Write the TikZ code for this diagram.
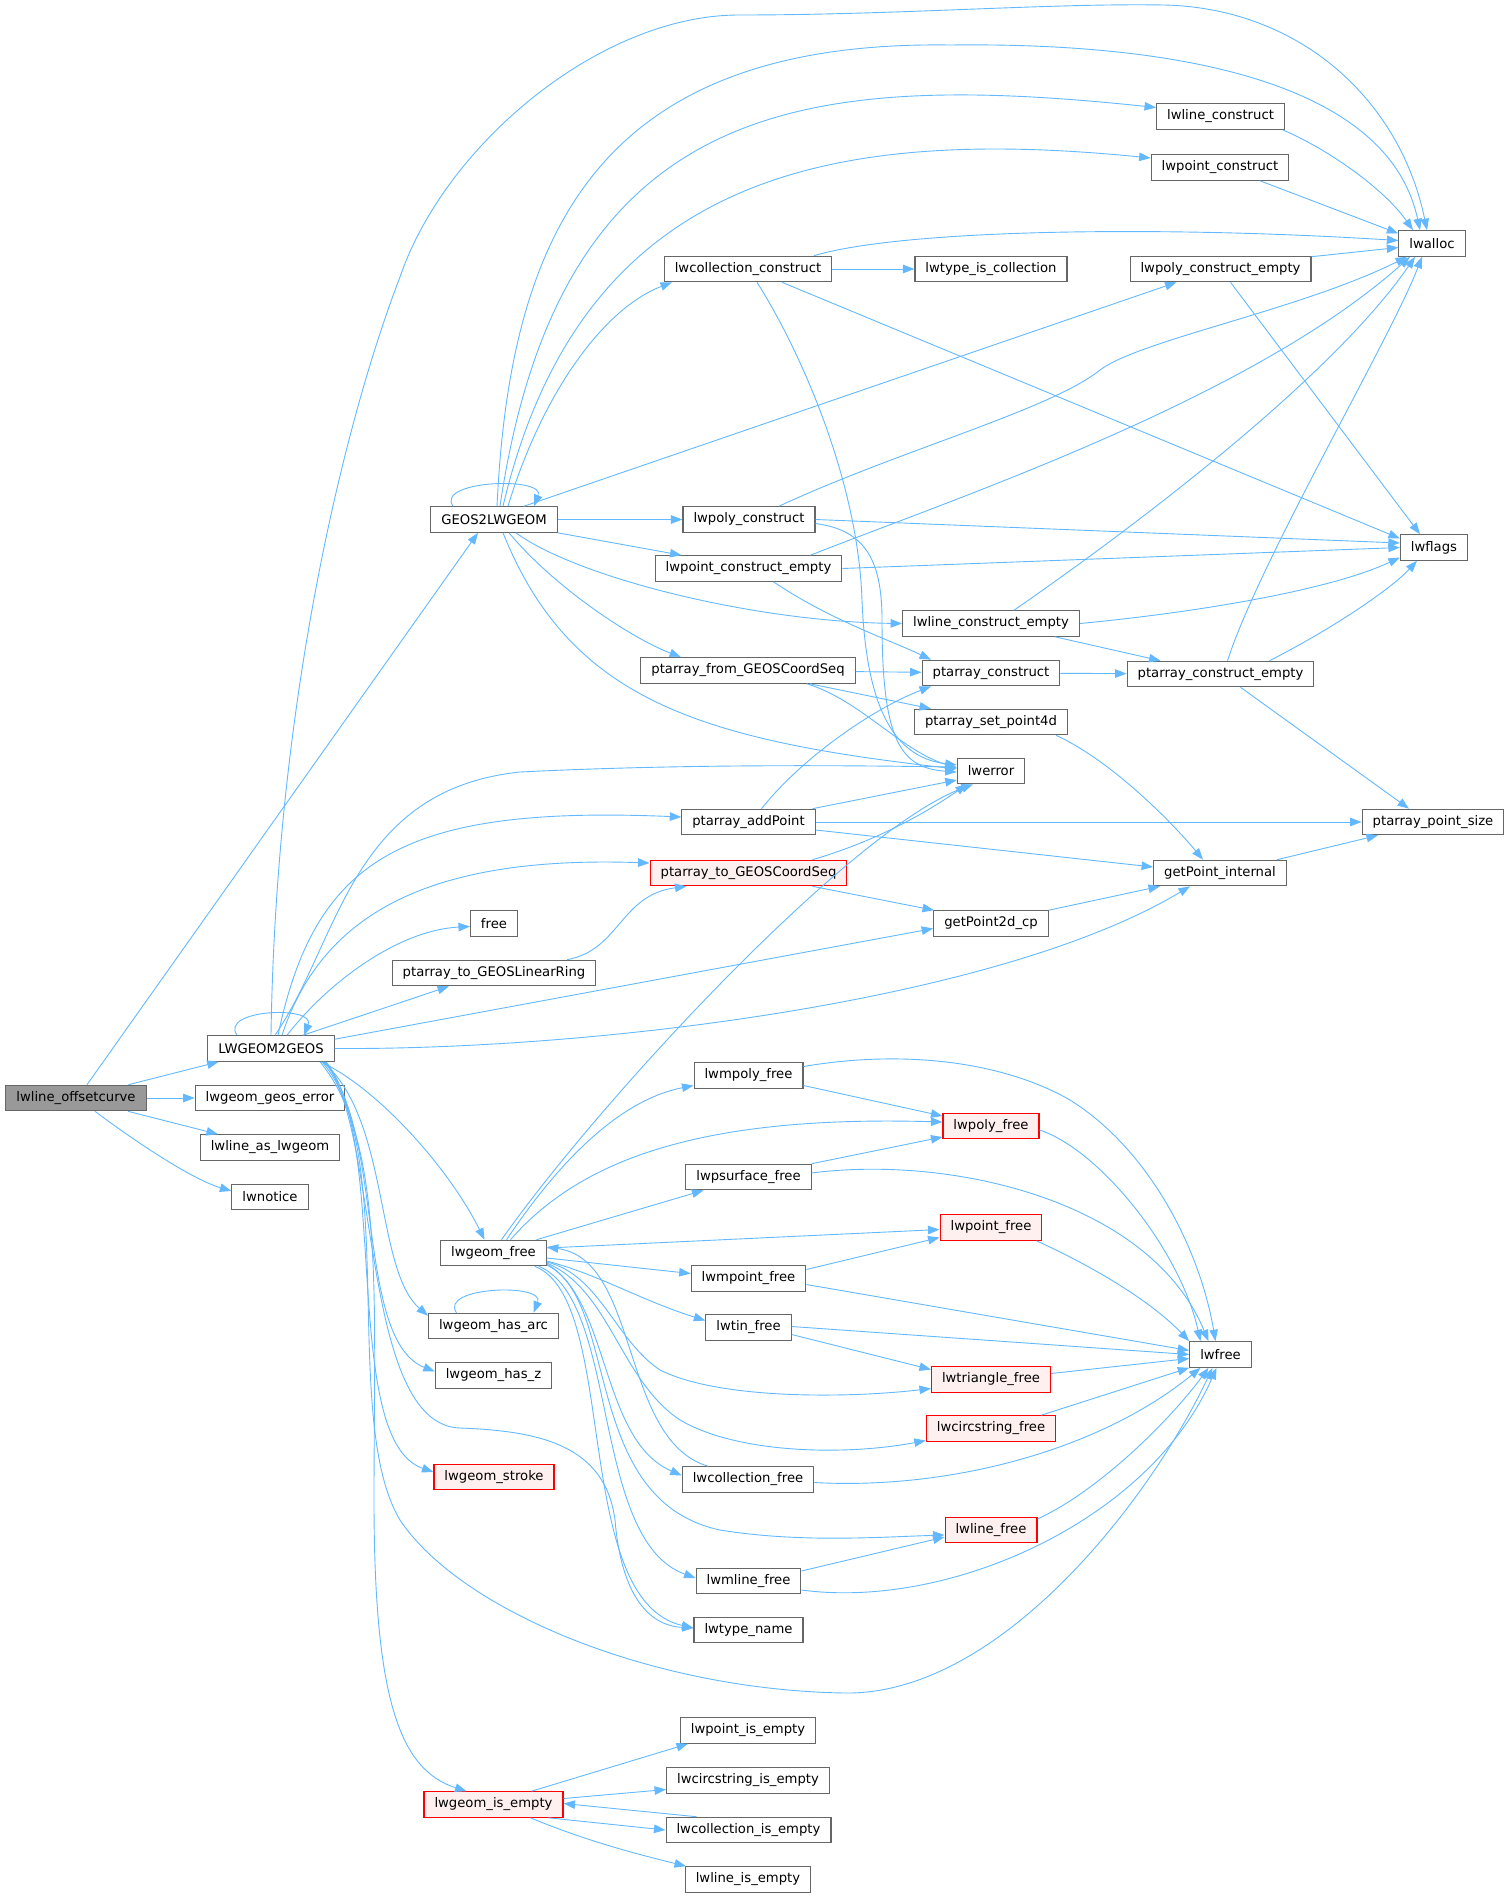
\documentclass[tikz,border=0pt]{standalone}
\usepackage{fontspec}
\setmainfont{DejaVu Sans}
\definecolor{edgeblue}{HTML}{63B8FF}
\definecolor{boxgray}{HTML}{666666}
\definecolor{rootgray}{HTML}{999999}
\definecolor{redfill}{HTML}{FFF0F0}
\usetikzlibrary{arrows.meta}

\begin{document}
\begin{tikzpicture}[
  x=1pt, y=1pt,
  fn/.style={draw=boxgray, fill=white, line width=1.1pt, minimum height=25.5pt,
             inner xsep=10.5pt, inner ysep=0pt, font=\fontsize{13.2}{15}\selectfont},
  fnred/.style={fn, draw=red, fill=redfill},
  fnroot/.style={fn, fill=rootgray},
  call/.style={draw=edgeblue, line width=0.9pt, -{Triangle[length=11.5pt,width=8.5pt]}},
]
\useasboundingbox (0,0) rectangle (1509,-1898);

\node[fnroot] (offc) at (76,-1098) {lwline\_offsetcurve};
\node[fn] (l2g) at (271,-1048.5) {LWGEOM2GEOS};
\node[fn] (gerr) at (270,-1098) {lwgeom\_geos\_error};
\node[fn] (aslw) at (270,-1147.5) {lwline\_as\_lwgeom};
\node[fn] (notice) at (270,-1197) {lwnotice};
\node[fn] (g2l) at (494,-519.5) {GEOS2LWGEOM};
\node[fn] (lnc) at (1220.5,-116.5) {lwline\_construct};
\node[fn] (ptc) at (1220,-167.5) {lwpoint\_construct};
\node[fn] (alloc) at (1432,-243.5) {lwalloc};
\node[fn] (colc) at (748,-269) {lwcollection\_construct};
\node[fn] (iscol) at (991,-269) {lwtype\_is\_collection};
\node[fn] (polyce) at (1220.5,-269) {lwpoly\_construct\_empty};
\node[fn] (polyc) at (749,-519.5) {lwpoly\_construct};
\node[fn] (flags) at (1434,-547.5) {lwflags};
\node[fn] (ptce) at (748.5,-568.5) {lwpoint\_construct\_empty};
\node[fn] (lnce) at (991,-623.5) {lwline\_construct\_empty};
\node[fn] (pafrom) at (748,-670.5) {ptarray\_from\_GEOSCoordSeq};
\node[fn] (pac) at (991,-673) {ptarray\_construct};
\node[fn] (pace) at (1220.5,-674) {ptarray\_construct\_empty};
\node[fn] (paset) at (991,-722) {ptarray\_set\_point4d};
\node[fn] (err) at (991,-771) {lwerror};
\node[fn] (paadd) at (748.5,-822) {ptarray\_addPoint};
\node[fn] (pasize) at (1433,-822) {ptarray\_point\_size};
\node[fnred] (pato) at (748.5,-873) {ptarray\_to\_GEOSCoordSeq};
\node[fn] (gpi) at (1220,-873) {getPoint\_internal};
\node[fn] (free) at (494,-923.5) {free};
\node[fn] (gp2d) at (991,-923.5) {getPoint2d\_cp};
\node[fn] (paring) at (494,-973) {ptarray\_to\_GEOSLinearRing};
\node[fn] (mpolyf) at (748.5,-1075.5) {lwmpoly\_free};
\node[fnred] (polyf) at (991,-1126) {lwpoly\_free};
\node[fn] (psurff) at (748.5,-1177) {lwpsurface\_free};
\node[fnred] (ptf) at (991,-1227.5) {lwpoint\_free};
\node[fn] (gfree) at (493.5,-1253) {lwgeom\_free};
\node[fn] (mptf) at (748.5,-1278.5) {lwmpoint\_free};
\node[fn] (hasarc) at (493.5,-1326) {lwgeom\_has\_arc};
\node[fn] (tinf) at (748.5,-1327.5) {lwtin\_free};
\node[fn] (lwfree) at (1220.5,-1354.5) {lwfree};
\node[fn] (hasz) at (493.5,-1375.5) {lwgeom\_has\_z};
\node[fnred] (trif) at (991,-1379.5) {lwtriangle\_free};
\node[fnred] (circf) at (991,-1428.5) {lwcircstring\_free};
\node[fnred] (stroke) at (494,-1477) {lwgeom\_stroke};
\node[fn] (colf) at (748,-1479.5) {lwcollection\_free};
\node[fnred] (lnf) at (991,-1530) {lwline\_free};
\node[fn] (mlnf) at (748.5,-1581) {lwmline\_free};
\node[fn] (tname) at (748.5,-1630) {lwtype\_name};
\node[fn] (ptie) at (748,-1730.5) {lwpoint\_is\_empty};
\node[fn] (circie) at (748,-1780.5) {lwcircstring\_is\_empty};
\node[fnred] (gie) at (493.5,-1804.5) {lwgeom\_is\_empty};
\node[fn] (colie) at (748.5,-1830) {lwcollection\_is\_empty};
\node[fn] (lnie) at (748,-1879.5) {lwline\_is\_empty};

\draw[call] ([xshift=11pt]offc.north) -- ([xshift=-16pt]g2l.south);
\draw[call] (offc) -- (l2g);
\draw[call] (offc) -- (gerr);
\draw[call] (offc) -- (aslw);
\draw[call] ([xshift=19pt]offc.south) .. controls +(40,-30) and +(-40,12) .. ([yshift=6pt]notice.west);

\draw[call] ([xshift=-34pt]l2g.north) .. controls +(-18,26) and +(12,30) .. ([xshift=33pt]l2g.north);
\draw[call] (l2g.north) .. controls (276,-700) and (345,-420) .. (400,-277)
  .. controls (445,-145) and (600,-15) .. (739,-15)
  .. controls (900,-15) and (1050,-3) .. (1164,-5)
  .. controls (1300,-8) and (1400,-100) .. ([xshift=-5pt]alloc.north);
\draw[call] ([xshift=4pt]l2g.north) .. controls (340,-940) and (350,-790) .. (520,-772)
  .. controls (700,-763) and (880,-766) .. ([yshift=4pt]err.west);
\draw[call] ([xshift=7pt]l2g.north) .. controls (315,-860) and (400,-805) .. ([yshift=5pt]paadd.west);
\draw[call] ([xshift=11pt]l2g.north) .. controls (320,-920) and (420,-855) .. ([yshift=10pt]pato.west);
\draw[call] ([xshift=16pt]l2g.north) .. controls (330,-980) and (400,-930) .. ([yshift=-3pt]free.west);
\draw[call] ([xshift=32pt]l2g.north) -- ([xshift=-45pt]paring.south);
\draw[call] ([yshift=-4pt]l2g.north east) -- ([yshift=-5pt]gp2d.west);
\draw[call] (l2g.east) .. controls (600,-1050) and (1000,-1000) .. ([xshift=-30pt]gpi.south);
\draw[call] ([xshift=50pt]l2g.south) .. controls (380,-1090) and (450,-1170) .. ([xshift=-9pt]gfree.north);
\draw[call] ([xshift=52pt]l2g.south) .. controls (390,-1120) and (375,-1270) .. ([yshift=-3pt]hasarc.north west);
\draw[call] ([xshift=53pt]l2g.south) .. controls (385,-1130) and (355,-1340) .. ([yshift=4pt]hasz.west);
\draw[call] ([xshift=55pt]l2g.south) .. controls (390,-1140) and (340,-1440) .. ([yshift=5pt]stroke.west);
\draw[call] ([xshift=54pt]l2g.south) .. controls (380,-1130) and (360,-1425) .. (460,-1428)
  .. controls (540,-1431) and (605,-1445) .. (615,-1520)
  .. controls (620,-1580) and (640,-1625) .. ([yshift=2pt]tname.west);
\draw[call] ([xshift=51pt]l2g.south) .. controls (400,-1150) and (340,-1420) .. (400,-1520)
  .. controls (460,-1610) and (650,-1690) .. (845,-1693)
  .. controls (1000,-1695) and (1150,-1500) .. ([xshift=-8pt]lwfree.south);
\draw[call] ([xshift=49pt]l2g.south) .. controls (385,-1140) and (374,-1300) .. (374,-1500)
  .. controls (374,-1700) and (400,-1770) .. ([xshift=-27pt]gie.north);

\draw[call] ([xshift=-41pt]g2l.north) .. controls +(-18,26) and +(12,30) .. ([xshift=40pt]g2l.north);
\draw[call] ([xshift=3pt]g2l.north) .. controls (510,-230) and (600,-40) .. (950,-45)
  .. controls (1200,-42) and (1390,-90) .. ([xshift=-12pt]alloc.north);
\draw[call] ([xshift=6pt]g2l.north) .. controls (560,-100) and (800,-70) .. ([yshift=9pt]lnc.west);
\draw[call] ([xshift=9pt]g2l.north) .. controls (580,-180) and (820,-125) .. ([yshift=9.5pt]ptc.west);
\draw[call] ([xshift=14pt]g2l.north) .. controls (540,-400) and (600,-310) .. ([xshift=-76pt]colc.south);
\draw[call] ([xshift=30pt]g2l.north) -- ([xshift=-44pt]polyce.south);
\draw[call] (g2l) -- (polyc);
\draw[call] (g2l.south east) -- ([xshift=-67pt]ptce.north);
\draw[call] ([xshift=22pt]g2l.south) .. controls (576,-577) and (752,-621.5) .. (lnce.west);
\draw[call] ([xshift=15pt]g2l.south) .. controls (554,-587) and (631,-638) .. ([xshift=-67pt]pafrom.north);
\draw[call] ([xshift=9pt]g2l.south) .. controls (570,-700) and (700,-740) .. ([yshift=2pt]err.west);

\draw[call] ([xshift=66pt]colc.north) .. controls (900,-230) and (1150,-225) .. ([yshift=3pt]alloc.west);
\draw[call] (colc) -- (iscol);
\draw[call] ([xshift=34pt]colc.south) -- ([yshift=9pt]flags.west);
\draw[call] ([xshift=9pt]colc.south) .. controls (800,-350) and (858,-480) .. (862,-600)
  .. controls (866,-700) and (890,-757) .. ([yshift=6pt]err.west);

\draw[call] ([xshift=30pt]polyc.north) .. controls (900,-450) and (1050,-410) .. (1100,-370)
  .. controls (1140,-340) and (1300,-310) .. ([xshift=-25pt]alloc.south);
\draw[call] (polyc.east) -- ([yshift=4.5pt]flags.west);
\draw[call] ([yshift=-4pt]polyc.east) .. controls (865,-530) and (882,-560) .. (882,-620)
  .. controls (882,-740) and (900,-768) .. ([yshift=-1pt]err.west);

\draw[call] ([xshift=62pt]ptce.north) .. controls (950,-500) and (1250,-400) .. ([xshift=-22pt]alloc.south);
\draw[call] (ptce.east) -- (flags.west);
\draw[call] ([xshift=25pt]ptce.south) .. controls (830,-620) and (890,-640) .. ([xshift=-60pt]pac.north);

\draw[call] ([xshift=23pt]lnce.north) .. controls (1130,-530) and (1330,-380) .. ([xshift=-17pt]alloc.south);
\draw[call] (lnce.east) .. controls (1200,-612) and (1330,-590) .. ([yshift=-10pt]flags.west);
\draw[call] ([xshift=64pt]lnce.south) -- ([xshift=-60pt]pace.north);

\draw[call] (pafrom) -- (pac);
\draw[call] ([xshift=62pt]pafrom.south) -- ([xshift=-60pt]paset.north);
\draw[call] ([xshift=59pt]pafrom.south) .. controls (860,-700) and (900,-750) .. ([yshift=3pt]err.west);

\draw[call] (pac) -- (pace);
\draw[call] ([xshift=7pt]pace.north) .. controls (1260,-560) and (1390,-340) .. ([xshift=-10pt]alloc.south);
\draw[call] ([xshift=49pt]pace.north) .. controls (1330,-630) and (1390,-590) .. ([xshift=-17pt]flags.south);
\draw[call] ([xshift=20pt]pace.south) -- ([xshift=-24pt]pasize.north);

\draw[call] ([yshift=-1pt]polyce.north east) -- ([yshift=-4pt]alloc.west);
\draw[call] ([xshift=10pt]polyce.south) -- ([xshift=-14pt]flags.north);
\draw[call] ([xshift=62pt]lnc.south) .. controls (1330,-150) and (1385,-190) .. ([xshift=-19pt]alloc.north);
\draw[call] ([xshift=40pt]ptc.south) -- ([yshift=10pt]alloc.west);

\draw[call] ([xshift=65pt]paset.south) .. controls (1110,-760) and (1170,-820) .. ([xshift=-17pt]gpi.north);

\draw[call] ([xshift=13pt]paadd.north) .. controls (800,-760) and (870,-710) .. ([xshift=-60pt]pac.south);
\draw[call] ([xshift=64pt]paadd.north) -- ([yshift=-9pt]err.west);
\draw[call] (paadd) -- (pasize);
\draw[call] ([yshift=-8pt]paadd.east) -- ([yshift=6pt]gpi.west);

\draw[call] ([xshift=64pt]pato.north) .. controls (880,-840) and (930,-810) .. ([xshift=-24pt]err.south);
\draw[call] ([xshift=64pt]pato.south) -- ([xshift=-57pt]gp2d.north);
\draw[call] (gp2d.north east) -- ([xshift=-60pt]gpi.south);
\draw[call] ([xshift=57pt]gpi.north) -- ([xshift=-55pt]pasize.south);
\draw[call] ([xshift=73pt]paring.north) .. controls (620,-950) and (620,-895) .. ([xshift=-62pt]pato.south);

\draw[call] ([xshift=8pt]gfree.north) .. controls (600,-1100) and (850,-830) .. ([xshift=-18pt]err.south);
\draw[call] ([xshift=13pt]gfree.north) .. controls (560,-1160) and (620,-1100) .. ([yshift=-10pt]mpolyf.west);
\draw[call] ([xshift=17pt]gfree.north) .. controls (580,-1160) and (700,-1115) .. ([yshift=4pt]polyf.west);
\draw[call] ([xshift=43pt]gfree.north) -- ([xshift=-45pt]psurff.south);
\draw[call] ([yshift=5pt]gfree.east) -- ([yshift=-2pt]ptf.west);
\draw[call] ([yshift=-5pt]gfree.east) -- ([yshift=5pt]mptf.west);
\draw[call] ([yshift=-8pt]gfree.east) .. controls (600,-1275) and (640,-1300) .. ([yshift=7pt]tinf.west);
\draw[call] ([yshift=-9pt]gfree.east) .. controls (600,-1275) and (615,-1340) .. (660,-1370)
  .. controls (720,-1400) and (850,-1398) .. ([yshift=-9pt]trif.west);
\draw[call] ([yshift=-10pt]gfree.east) .. controls (610,-1290) and (620,-1380) .. (680,-1420)
  .. controls (740,-1455) and (850,-1455) .. ([yshift=-12pt]circf.west);
\draw[call] ([yshift=-11pt]gfree.east) .. controls (610,-1300) and (600,-1440) .. ([yshift=4pt]colf.west);
\draw[call] ([yshift=-12pt]gfree.east) .. controls (620,-1300) and (580,-1500) .. (720,-1530)
  .. controls (800,-1543) and (880,-1537) .. ([yshift=-5pt]lnf.west);
\draw[call] ([xshift=-8pt]gfree.south east) .. controls (620,-1300) and (590,-1540) .. ([yshift=3pt]mlnf.west);
\draw[call] ([xshift=-12pt]gfree.south east) .. controls (620,-1300) and (570,-1600) .. ([yshift=2pt]tname.west);
\draw[call] ([xshift=-40pt]colf.north) .. controls (620,-1440) and (640,-1260) .. ([yshift=6pt]gfree.east);

\draw[call] ([yshift=-10pt]mpolyf.east) -- ([yshift=10pt]polyf.west);
\draw[call] ([yshift=9pt]mpolyf.east) .. controls (900,-1050) and (1000,-1060) .. (1070,-1100)
  .. controls (1150,-1150) and (1200,-1250) .. ([xshift=-5pt]lwfree.north);
\draw[call] (psurff.north east) -- ([yshift=-11pt]polyf.west);
\draw[call] ([yshift=4pt]psurff.east) .. controls (950,-1155) and (1150,-1200) .. ([xshift=-12pt]lwfree.north);
\draw[call] ([yshift=-4pt]polyf.east) .. controls (1100,-1150) and (1180,-1250) .. ([xshift=-20pt]lwfree.north);
\draw[call] ([xshift=-6pt]ptf.south east) .. controls (1090,-1265) and (1150,-1300) .. (lwfree.north west);
\draw[call] ([yshift=9pt]mptf.east) -- ([yshift=-10pt]ptf.west);
\draw[call] ([yshift=-6pt]mptf.east) -- ([yshift=4pt]lwfree.west);
\draw[call] ([yshift=-7pt]tinf.east) -- ([yshift=10pt]trif.west);
\draw[call] ([yshift=1pt]tinf.east) -- (lwfree.west);
\draw[call] ([yshift=6pt]trif.east) -- ([yshift=-4pt]lwfree.west);
\draw[call] ([xshift=-15pt]circf.north east) -- (lwfree.south west);
\draw[call] ([yshift=-3pt]colf.east) .. controls (950,-1490) and (1100,-1450) .. ([xshift=-20pt]lwfree.south);
\draw[call] ([yshift=11pt]lnf.east) .. controls (1100,-1490) and (1170,-1420) .. ([xshift=-12pt]lwfree.south);
\draw[call] ([yshift=10pt]mlnf.east) -- ([yshift=-7pt]lnf.west);
\draw[call] ([yshift=-9pt]mlnf.east) .. controls (950,-1610) and (1150,-1520) .. ([xshift=-4pt]lwfree.south);

\draw[call] ([xshift=-37pt]hasarc.north) .. controls +(-18,26) and +(12,30) .. ([xshift=40pt]hasarc.north);

\draw[call] ([xshift=38pt]gie.north) -- ([xshift=-60pt]ptie.south);
\draw[call] ([yshift=6pt]gie.east) -- ([yshift=-9pt]circie.west);
\draw[call] ([xshift=55pt]gie.south) -- (colie.west);
\draw[call] ([xshift=-52pt]colie.north) -- ([yshift=1pt]gie.east);
\draw[call] ([xshift=37pt]gie.south) .. controls +(60,-25) and +(-40,10) .. ([xshift=-62pt]lnie.north);
\end{tikzpicture}
\end{document}
